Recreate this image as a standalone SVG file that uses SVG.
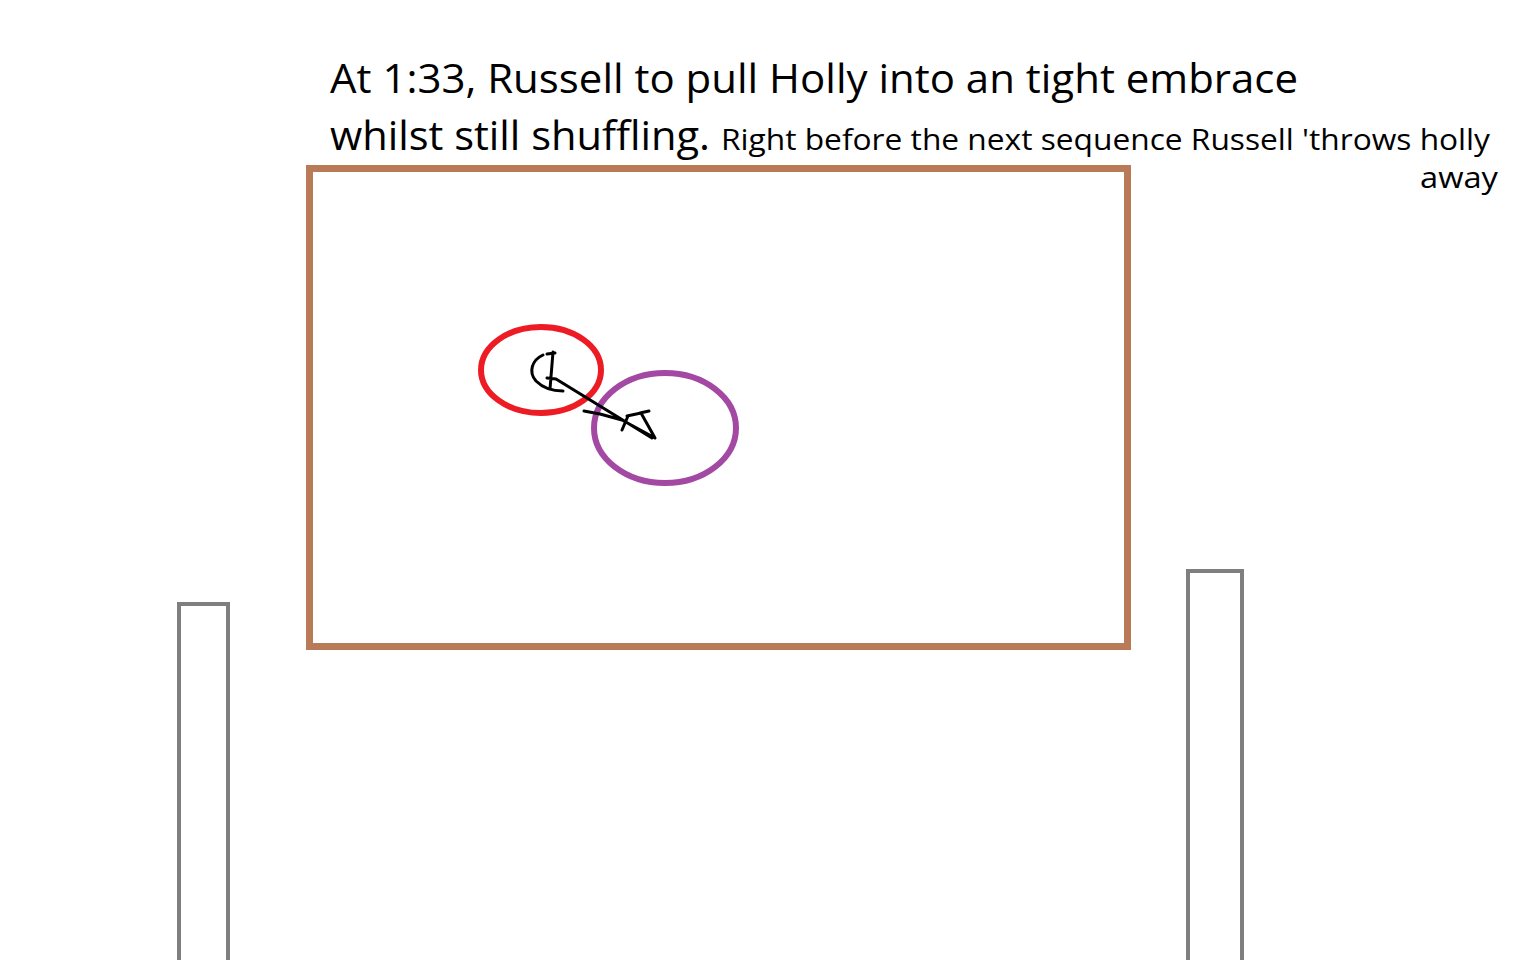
<svg xmlns="http://www.w3.org/2000/svg" width="1536" height="960" viewBox="0 0 1536 960">
<style>
.t{font-family:"Open Sans","Noto Sans","Liberation Sans",sans-serif;fill:#000}
.post{fill:none;stroke:#7f7f7f;stroke-width:4}
.ink{fill:none;stroke:#000;stroke-width:3;stroke-linecap:round;stroke-linejoin:round}
</style>
<rect width="1536" height="960" fill="#fff"/>
<g id="text">
<text class="t" x="330" y="93" font-size="40" textLength="968" lengthAdjust="spacingAndGlyphs">At 1:33, Russell to pull Holly into an tight embrace</text>
<text class="t" x="330" y="150" font-size="40" textLength="380" lengthAdjust="spacingAndGlyphs">whilst still shuffling.</text>
<text class="t" x="721" y="150" font-size="30" textLength="769" lengthAdjust="spacingAndGlyphs">Right before the next sequence Russell 'throws holly</text>
<text class="t" x="1498" y="188" font-size="30" text-anchor="end" textLength="78" lengthAdjust="spacingAndGlyphs">away</text>
</g>
<g id="stage">
<rect x="309.5" y="168.5" width="818" height="478" fill="none" stroke="#b97a57" stroke-width="7"/>
</g>
<g id="post-left"><rect x="179" y="604" width="49" height="380" class="post"/></g>
<g id="post-right"><rect x="1188" y="571" width="54" height="420" class="post"/></g>
<g id="russell"><ellipse cx="541" cy="370" rx="60" ry="43" fill="none" stroke="#ed1c24" stroke-width="6"/></g>
<g id="holly"><ellipse cx="665" cy="428" rx="71" ry="55" fill="none" stroke="#a349a4" stroke-width="6"/></g>
<g id="connectors">
<path class="ink" d="M547 354 L555 353 M543 355 C532 360 528 372 536 381 C543 388 553 391 563 391 M553 352 L550 389 M547 378 L556 379 L652 438 M584 411 L600 414 L622 420 L655 438 L641 413 L627 416 M640 413 L649 411 M622 430 L628 416"/>
</g>
</svg>
